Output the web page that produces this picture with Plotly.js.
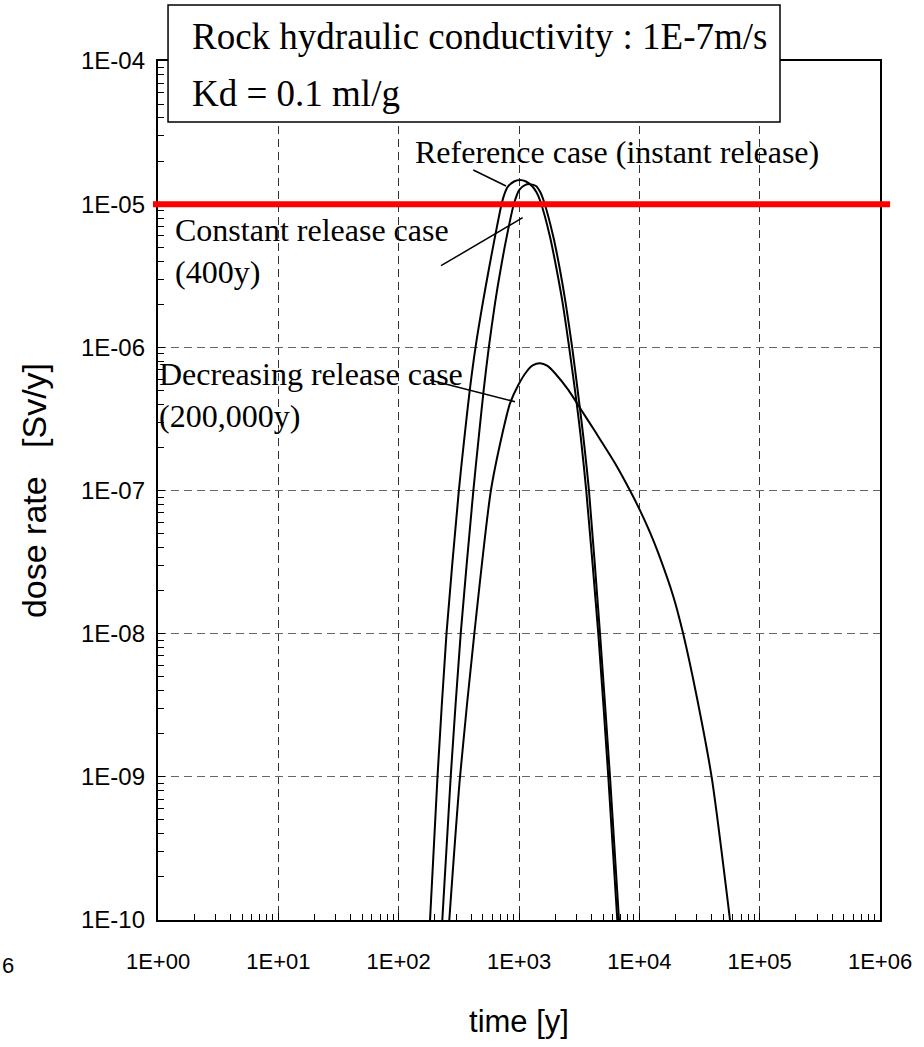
<!DOCTYPE html>
<html>
<head>
<meta charset="utf-8">
<script src="https://cdn.plot.ly/plotly-3.0.1.min.js"></script>
<style>html,body{margin:0;padding:0;background:#fff;}#chart{width:924px;height:1047px;}</style>
</head>
<body>
<div id="chart"></div>
<script>
// time [y] and dose rate [Sv/y]
var refT = [182.2,210.2,249.7,316.0,352.5,390.0,435.1,499.3,560.1,631.8,718.3,757.9,805.6,908.6,1019.3,1143.5,1282.3,1398.1,1508.8,1809.5,2057.5,2307.6,2618.2,3016.5,3256.8,3625.0,4560.2,5523.6,6560.7];
var refD = [1e-10,1e-9,1e-8,9.9e-8,2.38e-7,5.04e-7,1.0e-6,2.03e-6,3.47e-6,5.93e-6,1.01e-5,1.18e-5,1.32e-5,1.44e-5,1.475e-5,1.44e-5,1.34e-5,1.21e-5,1.04e-5,5.93e-6,3.47e-6,2.03e-6,9.84e-7,4.06e-7,2.38e-7,9.9e-8,1e-8,1e-9,1e-10];

var constT = [230.5,270.6,327.8,417.2,463.4,508.9,561.2,631.8,702.0,790.6,908.6,1005.8,1119.7,1234.4,1384.7,1497.6,1613.9,1927.9,2191.4,2444.3,2772.8,3170.4,3422.7,3817.4,4712.4,5705.5,6779.0];
var constD = [1e-10,1e-9,1e-8,9.9e-8,2.38e-7,5.04e-7,1.0e-6,2.03e-6,3.47e-6,5.93e-6,1.01e-5,1.26e-5,1.36e-5,1.38e-5,1.34e-5,1.22e-5,1.04e-5,5.93e-6,3.47e-6,2.03e-6,9.84e-7,4.06e-7,2.38e-7,9.9e-8,1e-8,1e-9,1e-10];

var decT = [263.5,323.4,425.3,582.0,718.3,842.0,986.7,1158.9,1299.8,1494.8,1725.7,1991.6,2568.8,3213.9,4281.2,6278.1,8364.7,10127,12264,14378,19157,22934,29973,39938,56693];
var decD = [1e-10,1e-9,1e-8,9.8e-8,2.38e-7,4.06e-7,5.46e-7,6.78e-7,7.47e-7,7.74e-7,7.41e-7,6.59e-7,5.04e-7,3.77e-7,2.59e-7,1.55e-7,1.0e-7,7.27e-8,5.1e-8,3.65e-8,1.82e-8,1.03e-8,3.64e-9,9.9e-10,1e-10];

var limitDose = 1e-5;

var xTickVals = [1,10,100,1000,10000,100000,1000000];
var xTickText = ['1E+00','1E+01','1E+02','1E+03','1E+04','1E+05','1E+06'];
var yTickVals = [1e-10,1e-9,1e-8,1e-7,1e-6,1e-5,1e-4];
var yTickText = ['1E-10','1E-09','1E-08','1E-07','1E-06','1E-05','1E-04'];
var minorDigits = [2,3,4,5,6,7,8,9];

var boxLines = ['Rock hydraulic conductivity : 1E-7m/s','Kd = 0.1 ml/g'];
var labelRef = 'Reference case (instant release)';
var labelConst = 'Constant release case<br>(400y)';
var labelDec = 'Decreasing release case<br>(200,000y)';
var xTitle = 'time [y]';
var yTitle = 'dose rate   [Sv/y]';

function minorVals(decades){
  var out = [];
  for (var i = 0; i < decades.length - 1; i++) {
    for (var j = 0; j < minorDigits.length; j++) out.push(decades[i] * minorDigits[j]);
  }
  return out;
}

var lineStyle = {color:'black', width:2, shape:'spline', smoothing:0.7};
var traces = [
  {x:refT, y:refD, mode:'lines', line:lineStyle, name:'Reference case', showlegend:false},
  {x:constT, y:constD, mode:'lines', line:lineStyle, name:'Constant release case', showlegend:false},
  {x:decT, y:decD, xaxis:'x2', yaxis:'y2', mode:'lines', line:lineStyle, name:'Decreasing release case', showlegend:false}
];

var serif = 'Liberation Serif, Times New Roman, serif';
var sans = 'Liberation Sans, Arial, sans-serif';

// main axes: frame, inside ticks and dashed grid
// overlay axes (same range): tick labels and titles
var layout = {
  width:924, height:1047,
  margin:{l:158, r:44, t:61, b:127},
  paper_bgcolor:'white', plot_bgcolor:'white',
  showlegend:false,
  xaxis:{
    type:'log', range:[0,6],
    tickmode:'array', tickvals:xTickVals, showticklabels:false,
    ticks:'inside', ticklen:7, tickwidth:1, tickcolor:'#000000',
    minor:{tickmode:'array', tickvals:minorVals(xTickVals), ticks:'inside', ticklen:6, tickwidth:1, tickcolor:'#000000', showgrid:false},
    showline:true, linecolor:'black', linewidth:2, mirror:true,
    showgrid:true, gridcolor:'#333', gridwidth:1, griddash:'8px,5px',
    zeroline:false
  },
  yaxis:{
    type:'log', range:[-10,-4],
    tickmode:'array', tickvals:yTickVals, showticklabels:false,
    ticks:'inside', ticklen:7, tickwidth:1, tickcolor:'#000000',
    minor:{tickmode:'array', tickvals:minorVals(yTickVals), ticks:'inside', ticklen:6, tickwidth:1, tickcolor:'#000000', showgrid:false},
    showline:true, linecolor:'black', linewidth:2, mirror:true,
    showgrid:true, gridcolor:'#666', gridwidth:1, griddash:'8px,5px',
    zeroline:false
  },
  xaxis2:{
    type:'log', range:[0,6], overlaying:'x', anchor:'y2', side:'bottom',
    tickmode:'array', tickvals:xTickVals, ticktext:xTickText,
    tickfont:{family:sans, size:22, color:'black'},
    ticks:'', ticklabelstandoff:26,
    showline:false, showgrid:false, zeroline:false,
    title:{text:xTitle, font:{family:sans, size:31, color:'black'}, standoff:37}
  },
  yaxis2:{
    type:'log', range:[-10,-4], overlaying:'y', anchor:'x2', side:'left',
    tickmode:'array', tickvals:yTickVals, ticktext:yTickText,
    tickfont:{family:sans, size:24, color:'black'},
    ticks:'', ticklabelstandoff:12,
    showline:false, showgrid:false, zeroline:false,
    title:{text:yTitle, font:{family:sans, size:34, color:'black'}, standoff:24}
  },
  shapes:[
    {type:'line', xref:'paper', yref:'y', x0:-0.007, x1:1.014, y0:limitDose, y1:limitDose, line:{color:'#ff0000', width:6}},
    {type:'rect', xref:'paper', yref:'paper', x0:0.0139, x1:0.8615, y0:0.929, y1:1.0652, fillcolor:'white', line:{color:'black', width:1.5}, layer:'above'},
    {type:'line', xref:'paper', yref:'paper', x0:0.4367, y0:0.8731, x1:0.4820, y1:0.8545, line:{color:'black', width:1.5}},
    {type:'line', xref:'paper', yref:'paper', x0:0.392, y0:0.7617, x1:0.5051, y1:0.8176, line:{color:'black', width:1.5}},
    {type:'line', xref:'paper', yref:'paper', x0:0.3767, y0:0.6286, x1:0.4945, y1:0.6034, line:{color:'black', width:1.5}}
  ],
  annotations:[
    {xref:'paper', yref:'paper', x:0.0443, y:1.0291, xanchor:'left', yanchor:'middle', showarrow:false, text:boxLines[0], font:{family:serif, size:37, color:'black'}},
    {xref:'paper', yref:'paper', x:0.0443, y:0.9627, xanchor:'left', yanchor:'middle', showarrow:false, text:boxLines[1], font:{family:serif, size:37, color:'black'}},
    {xref:'paper', yref:'paper', x:0.3532, y:0.894, xanchor:'left', yanchor:'middle', showarrow:false, text:labelRef, font:{family:serif, size:32, color:'black'}},
    {xref:'paper', yref:'paper', x:0.0208, y:0.7788, xanchor:'left', yanchor:'middle', align:'left', showarrow:false, text:labelConst, font:{family:serif, size:32, color:'black'}},
    {xref:'paper', yref:'paper', x:-0.002, y:0.6110, xanchor:'left', yanchor:'middle', align:'left', showarrow:false, text:labelDec, font:{family:serif, size:32, color:'black'}},
    {xref:'paper', yref:'paper', x:-0.2078, y:-0.0524, xanchor:'center', yanchor:'middle', showarrow:false, text:'6', font:{family:sans, size:22, color:'black'}}
  ]
};

Plotly.newPlot('chart', traces, layout, {staticPlot:true, displayModeBar:false});
</script>
</body>
</html>
